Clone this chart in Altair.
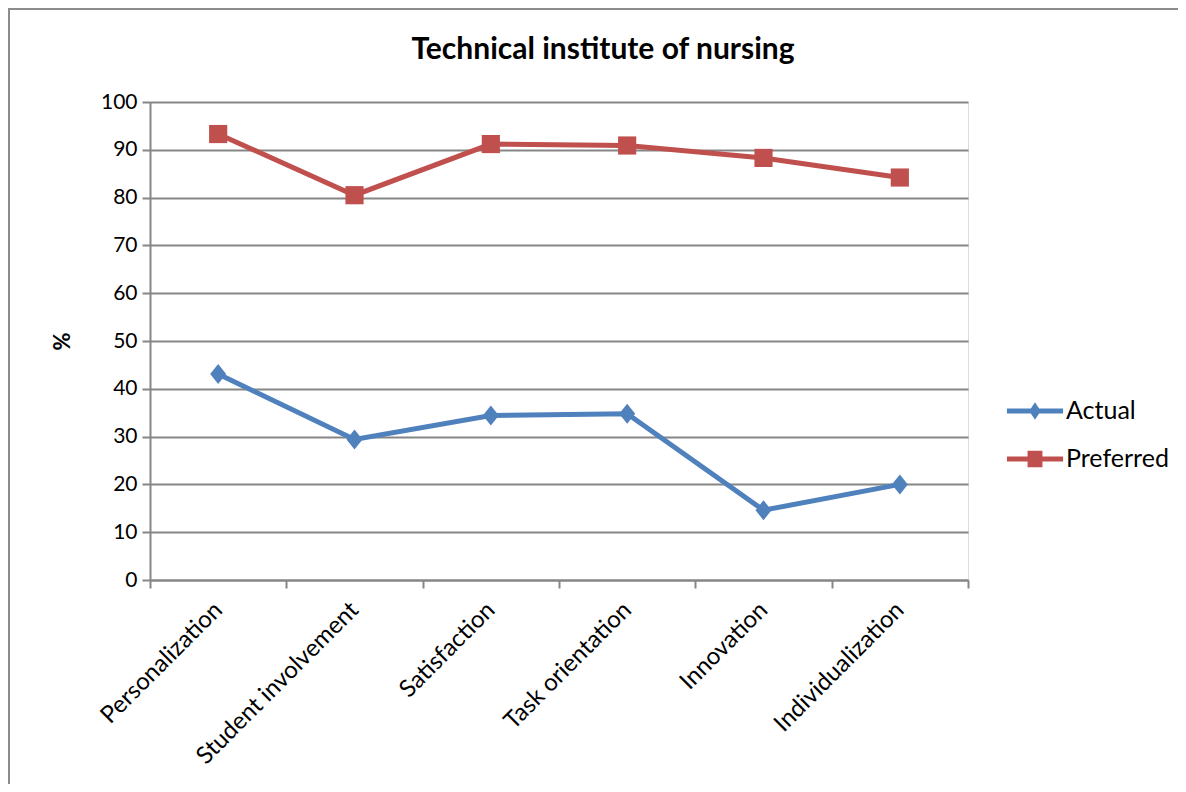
import altair as alt
import pandas as pd

categories = ["Personalization", "Student involvement", "Satisfaction",
              "Task orientation", "Innovation", "Individualization"]
actual = [43.1, 29.4, 34.4, 34.8, 14.6, 20.0]
preferred = [93.3, 80.5, 91.2, 90.9, 88.3, 84.2]
series_names = ["Actual", "Preferred"]
series_colors = ["#4F81BD", "#C0504D"]
y_ticks = [0, 10, 20, 30, 40, 50, 60, 70, 80, 90, 100]

rows = []
for c, a, p in zip(categories, actual, preferred):
    rows.append({"category": c, "series": "Actual", "value": a})
    rows.append({"category": c, "series": "Preferred", "value": p})
df = pd.DataFrame(rows)

FONT = "Lato"
GRID = "#868686"
W, H = 818, 478

diamond = "M0,-1L0.8,0L0,1L-0.8,0Z"
leg_actual = "M-1.17,-0.105L1.17,-0.105L1.17,0.105L-1.17,0.105Z M0,-0.36L0.24,0L0,0.36L-0.24,0Z"
leg_pref = "M-1.17,-0.105L1.17,-0.105L1.17,0.105L-1.17,0.105Z M-0.31,-0.34L0.31,-0.34L0.31,0.34L-0.31,0.34Z"

x_enc = alt.X("category:N", sort=categories,
              scale=alt.Scale(paddingInner=0, paddingOuter=0),
              axis=alt.Axis(title=None, labelAngle=-45, labelAlign="right",
                            labelBaseline="middle", labelFontSize=24,
                            labelFont=FONT, labelColor="#000000",
                            labelPadding=18, tickBand="extent", tickSize=8,
                            tickColor=GRID, tickWidth=2, domainColor=GRID,
                            domainWidth=2, grid=False, labelLimit=400))
y_enc = alt.Y("value:Q", scale=alt.Scale(domain=[0, 100], nice=False),
              axis=alt.Axis(values=y_ticks, title="%", titleFont=FONT,
                            titleFontSize=22, titleFontWeight="bold",
                            titleAngle=-90, titleX=-88, titleY=239,
                            titleAlign="center", titleBaseline="middle",
                            labelFont=FONT, labelFontSize=21,
                            labelColor="#000000", labelPadding=5,
                            tickSize=8, tickColor=GRID, tickWidth=2,
                            domainColor=GRID, domainWidth=2,
                            grid=True, gridColor=GRID, gridWidth=2))

base = alt.Chart(df)

border = alt.Chart(pd.DataFrame({"k": [0]})).mark_rect(
    fill=None, stroke="#8c8c8c", strokeWidth=2, clip=False
).encode(x=alt.value(-141), x2=alt.value(1300), y=alt.value(-93), y2=alt.value(1000))

layers = [border]
for name, col, shp, sz in [("Actual", series_colors[0], diamond, 400),
                           ("Preferred", series_colors[1], "square", 330)]:
    sub = base.transform_filter(alt.datum.series == name)
    layers.append(sub.mark_line(color=col, strokeWidth=5).encode(x=x_enc, y=y_enc))
    layers.append(sub.mark_point(shape=shp, size=sz, filled=True, color=col,
                                 opacity=1).encode(x=x_enc, y=y_enc))

leg = alt.Legend(title=None, orient="none", legendX=861, legendY=285,
                 labelFont=FONT, labelFontSize=25, labelColor="#000000",
                 symbolSize=2304, symbolOpacity=1, symbolStrokeWidth=0,
                 labelOffset=7, rowPadding=11, padding=0)
ghost = base.mark_point(opacity=0, filled=True).encode(
    x=x_enc, y=y_enc,
    color=alt.Color("series:N", scale=alt.Scale(domain=series_names, range=series_colors), legend=leg),
    shape=alt.Shape("series:N", scale=alt.Scale(domain=series_names, range=[leg_actual, leg_pref]), legend=leg),
)
layers.append(ghost)

chart = alt.layer(*layers).properties(
    width=W, height=H,
    title=alt.TitleParams("Technical institute of nursing", font=FONT, fontSize=30,
                          fontWeight="bold", color="#000000", anchor="middle",
                          dx=44, offset=-57),
    autosize=alt.AutoSizeParams(type="none"),
    padding={"left": 142, "top": 94, "right": 210, "bottom": 204},
).configure_view(stroke=None).configure(background="white")

chart.save("out.html", embed_options={"renderer": "svg", "actions": False})
